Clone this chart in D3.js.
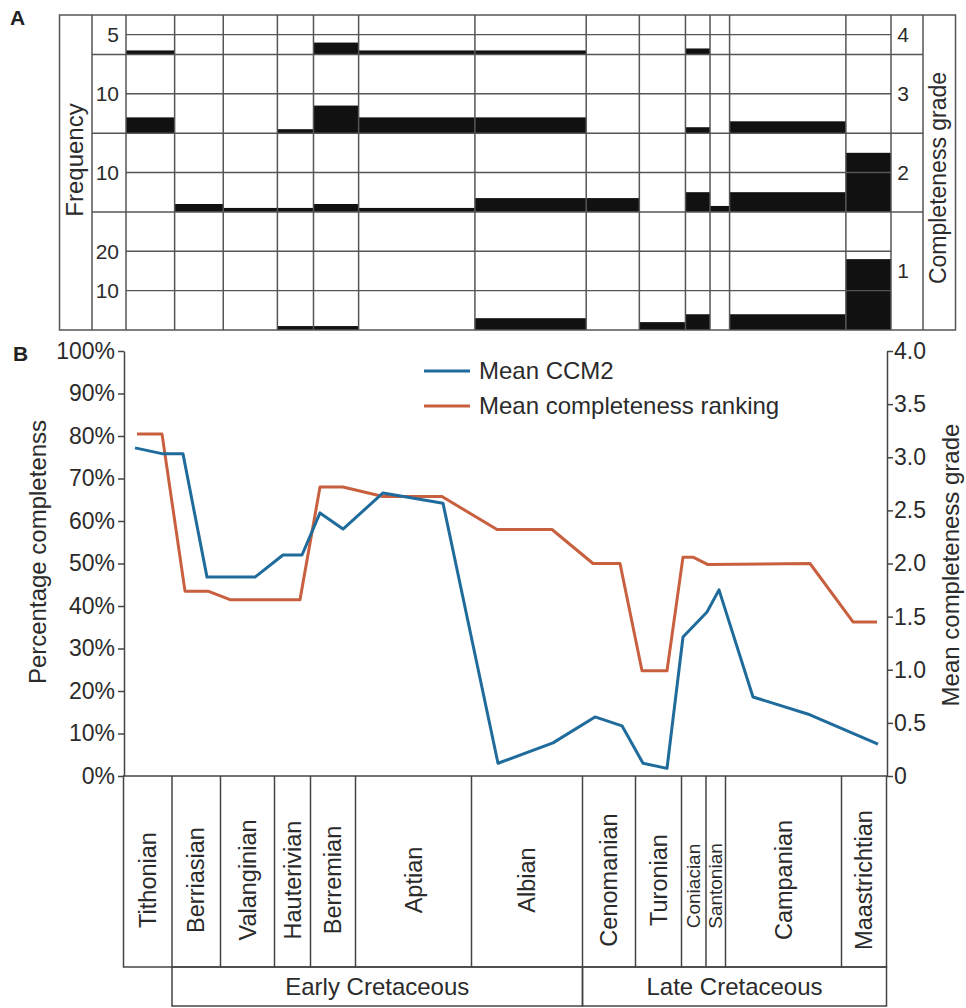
<!DOCTYPE html>
<html>
<head>
<meta charset="utf-8">
<script src="https://cdn.jsdelivr.net/npm/d3@7"></script>
<style>
  body { margin: 0; background: #fff; }
  svg { font-family: "Liberation Sans", Arial, sans-serif; }
</style>
</head>
<body>
<svg id="chart" width="966" height="1008"></svg>
<script>
// stages, left to right, with their edges in relative time units
const stages = ['Tithonian', 'Berriasian', 'Valanginian', 'Hauterivian', 'Berremian', 'Aptian', 'Albian',
  'Cenomanian', 'Turonian', 'Coniacian', 'Santonian', 'Campanian', 'Maastrichtian'];
const stageEdges = [0, 48.5, 97, 151, 187, 232, 348, 459, 512, 558, 582.5, 602, 718, 763];
const epochs = [
  { name: 'Early Cretaceous', first: 1, last: 6 },
  { name: 'Late Cretaceous', first: 7, last: 12 }
];

// panel A: frequency of each completeness grade per stage
const grades = [4, 3, 2, 1];
const gradeMax = [10, 20, 20, 30];
const gradeTicks = [[5], [10], [10], [10, 20]];
const freqGrade4 = [1, 0, 0, 0, 3, 1, 1, 0, 0, 1.5, 0, 0, 0];
const freqGrade3 = [4, 0, 0, 1, 7, 4, 4, 0, 0, 1.5, 0, 3, 0];
const freqGrade2 = [0, 2, 1, 1, 2, 1, 3.5, 3.5, 0, 5, 1.5, 5, 15];
const freqGrade1 = [0, 0, 0, 1, 1, 0, 3, 0, 2, 4, 0, 4, 18];

// panel B: mean CCM2 (%) and mean completeness ranking (grade)
const ccmX = [11.5, 39.5, 59.5, 83.5, 131.5, 159.5, 178.5, 196.5, 219.5, 259.5, 319.5, 374.5, 429.5,
  471.5, 498.5, 519.5, 543.5, 559.5, 583.5, 595.5, 629.5, 686.5, 754.5];
const ccmY = [77.2, 75.8, 75.8, 46.8, 46.8, 52, 52, 61.9, 58.1, 66.6, 64.2, 3, 7.8,
  13.9, 11.8, 3, 1.8, 32.7, 38.6, 43.8, 18.6, 14.4, 7.5];
const rankX = [13.5, 38.5, 61.5, 84.5, 106.5, 176.5, 196.5, 219.5, 259.5, 318.5, 373.5, 428.5,
  469.5, 496.5, 518.5, 543.5, 559.5, 569.5, 584.5, 686.5, 729.5, 753.5];
const rankY = [3.22, 3.22, 1.74, 1.74, 1.66, 1.66, 2.72, 2.72, 2.63, 2.63, 2.32, 2.32,
  2.0, 2.0, 0.99, 0.99, 2.06, 2.06, 1.99, 2.0, 1.45, 1.45];
const pctTicks = [0, 10, 20, 30, 40, 50, 60, 70, 80, 90, 100];
const gradeAxisTicks = [0, 0.5, 1, 1.5, 2, 2.5, 3, 3.5, 4];

const ink = '#555';
const textCol = '#2b2b2b';
const blue = '#1f6b9b';
const red = '#c8603f';

const svg = d3.select('#chart');

// ---------- Panel A ----------
const gA = svg.append('g');
const xA = d3.scaleLinear().domain([0, 763]).range([126, 891]);
const yA = d3.scaleLinear().domain([0, d3.sum(gradeMax)]).range([330, 15]);
const freqs = [freqGrade4, freqGrade3, freqGrade2, freqGrade1];
// offset of each band's base in frequency units
const offsets = gradeMax.map((m, i) => d3.sum(gradeMax.slice(i + 1)));

// bars
grades.forEach((g, i) => {
  gA.append('g').selectAll('rect')
    .data(freqs[i])
    .enter().append('rect')
    .attr('x', (d, j) => xA(stageEdges[j]))
    .attr('width', (d, j) => xA(stageEdges[j + 1]) - xA(stageEdges[j]))
    .attr('y', d => yA(offsets[i] + d))
    .attr('height', d => yA(offsets[i]) - yA(offsets[i] + d))
    .attr('fill', '#111');
});

// tick grid lines inside each band, band separators, grade labels
grades.forEach((g, i) => {
  gradeTicks[i].forEach(t => {
    const y = yA(offsets[i] + t);
    gA.append('line').attr('x1', xA(0)).attr('x2', xA(763)).attr('y1', y).attr('y2', y)
      .attr('stroke', ink).attr('stroke-width', 1.3);
    gA.append('text').attr('x', 119).attr('y', y).attr('dy', '0.35em')
      .attr('text-anchor', 'end').attr('font-size', 21).attr('fill', textCol).text(t);
  });
  if (i > 0) {
    const yb = yA(offsets[i] + gradeMax[i]);
    gA.append('line').attr('x1', 92).attr('x2', 923).attr('y1', yb).attr('y2', yb)
      .attr('stroke', ink).attr('stroke-width', 1.5);
  }
  const yc = (yA(offsets[i]) + yA(offsets[i] + gradeMax[i])) / 2;
  gA.append('text').attr('x', 903).attr('y', yc).attr('dy', '0.35em')
    .attr('text-anchor', 'middle').attr('font-size', 21).attr('fill', textCol).text(g);
});

// vertical stage lines
gA.append('g').selectAll('line')
  .data(stageEdges)
  .enter().append('line')
  .attr('x1', d => xA(d)).attr('x2', d => xA(d))
  .attr('y1', 15).attr('y2', 330)
  .attr('stroke', ink).attr('stroke-width', 1.5);
[92, 923].forEach(x => {
  gA.append('line').attr('x1', x).attr('x2', x).attr('y1', 15).attr('y2', 330)
    .attr('stroke', ink).attr('stroke-width', 1.5);
});
gA.append('rect').attr('x', 59.5).attr('y', 15).attr('width', 896).attr('height', 315)
  .attr('fill', 'none').attr('stroke', ink).attr('stroke-width', 1.5);

gA.append('text').attr('transform', 'translate(75,160) rotate(-90)').attr('dy', '0.35em')
  .attr('text-anchor', 'middle').attr('font-size', 24).attr('fill', textCol).text('Frequency');
gA.append('text').attr('transform', 'translate(938,178) rotate(-90)').attr('dy', '0.35em')
  .attr('text-anchor', 'middle').attr('font-size', 23).attr('fill', textCol).text('Completeness grade');
svg.append('text').attr('x', 10).attr('y', 25).attr('font-size', 21).attr('font-weight', 'bold')
  .attr('fill', '#222').text('A');

// ---------- Panel B ----------
const gB = svg.append('g');
const xB = d3.scaleLinear().domain([0, 763]).range([123.5, 886.5]);
const yPct = d3.scaleLinear().domain([0, 100]).range([776, 351]);
const yRank = d3.scaleLinear().domain([0, 4]).range([776, 351]);

const leftAxis = gB.append('g').attr('transform', 'translate(124,0)')
  .call(d3.axisLeft(yPct).tickValues(pctTicks).tickFormat(d => d + '%').tickSize(6).tickSizeOuter(0).tickPadding(3));
const rightAxis = gB.append('g').attr('transform', 'translate(887,0)')
  .call(d3.axisRight(yRank).tickValues(gradeAxisTicks)
    .tickFormat(d => d === 0 ? '0' : d3.format('.1f')(d)).tickSize(6).tickSizeOuter(0).tickPadding(1));
[leftAxis, rightAxis].forEach(ax => {
  ax.selectAll('path, line').attr('stroke', '#444').attr('stroke-width', 1.5);
  ax.selectAll('text').attr('font-size', 23).attr('fill', textCol)
    .style('font-family', '"Liberation Sans", Arial, sans-serif');
});

const lineCCM = d3.line().x(d => xB(d[0])).y(d => yPct(d[1]));
const lineRank = d3.line().x(d => xB(d[0])).y(d => yRank(d[1]));
gB.append('path').datum(d3.zip(rankX, rankY)).attr('d', lineRank)
  .attr('fill', 'none').attr('stroke', red).attr('stroke-width', 3).attr('stroke-linejoin', 'round');
gB.append('path').datum(d3.zip(ccmX, ccmY)).attr('d', lineCCM)
  .attr('fill', 'none').attr('stroke', blue).attr('stroke-width', 3).attr('stroke-linejoin', 'round');

// legend
const legend = gB.append('g');
[['Mean CCM2', blue, 371], ['Mean completeness ranking', red, 406]].forEach(([label, col, y]) => {
  legend.append('line').attr('x1', 424).attr('x2', 470).attr('y1', y).attr('y2', y)
    .attr('stroke', col).attr('stroke-width', 3);
  legend.append('text').attr('x', 479).attr('y', y).attr('dy', '0.35em')
    .attr('font-size', 24).attr('fill', textCol).text(label);
});

gB.append('text').attr('transform', 'translate(38,552) rotate(-90)').attr('dy', '0.35em')
  .attr('text-anchor', 'middle').attr('font-size', 24).attr('fill', textCol).text('Percentage completenss');
gB.append('text').attr('transform', 'translate(951,565) rotate(-90)').attr('dy', '0.35em')
  .attr('text-anchor', 'middle').attr('font-size', 24).attr('fill', textCol).text('Mean completeness grade');
svg.append('text').attr('x', 13).attr('y', 361).attr('font-size', 21).attr('font-weight', 'bold')
  .attr('fill', '#222').text('B');

// stage boxes under the time axis
const gS = svg.append('g');
gS.append('rect').attr('x', xB(0)).attr('y', 776).attr('width', xB(763) - xB(0)).attr('height', 191)
  .attr('fill', 'none').attr('stroke', '#444').attr('stroke-width', 1.5);
gS.selectAll('line.edge')
  .data(stageEdges.slice(1, -1))
  .enter().append('line').attr('class', 'edge')
  .attr('x1', d => xB(d)).attr('x2', d => xB(d)).attr('y1', 776).attr('y2', 967)
  .attr('stroke', '#444').attr('stroke-width', 1.5);
const isSmall = d => d === 'Coniacian' || d === 'Santonian';
gS.selectAll('text.stage')
  .data(stages)
  .enter().append('text').attr('class', 'stage')
  .attr('transform', (d, i) => {
    const cx = xB((stageEdges[i] + stageEdges[i + 1]) / 2);
    return `translate(${cx},${isSmall(d) ? 886 : 880}) rotate(-90)`;
  })
  .attr('dy', '0.35em')
  .attr('text-anchor', 'middle')
  .attr('font-size', d => isSmall(d) ? 19 : 23.5)
  .attr('fill', textCol)
  .text(d => d);

epochs.forEach(e => {
  const x0 = xB(stageEdges[e.first]);
  const x1 = xB(stageEdges[e.last + 1]);
  gS.append('rect').attr('x', x0).attr('y', 967).attr('width', x1 - x0).attr('height', 39)
    .attr('fill', 'none').attr('stroke', '#444').attr('stroke-width', 1.5);
  gS.append('text').attr('x', (x0 + x1) / 2).attr('y', 987).attr('dy', '0.35em')
    .attr('text-anchor', 'middle').attr('font-size', 24).attr('fill', textCol).text(e.name);
});
</script>
</body>
</html>
